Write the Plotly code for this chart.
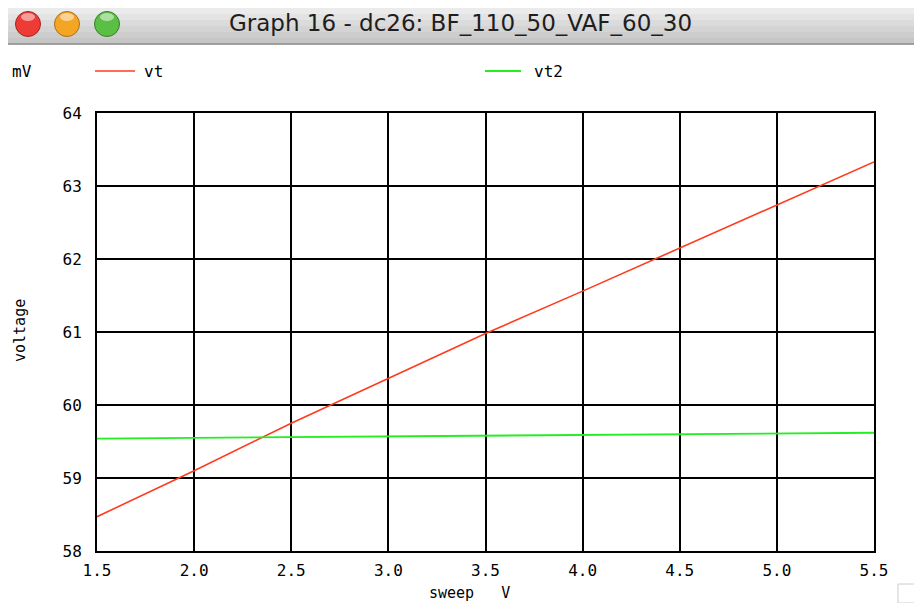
import plotly.graph_objects as go

sweep = [1.5, 2.0, 2.5, 3.0, 3.5, 4.0, 4.5, 5.0, 5.5]
vt = [58.47, 59.10, 59.75, 60.37, 60.98, 61.56, 62.15, 62.74, 63.33]
vt2 = [59.54, 59.55, 59.56, 59.57, 59.58, 59.60, 59.61, 59.61, 59.62]
x_ticks = [1.5, 2.0, 2.5, 3.0, 3.5, 4.0, 4.5, 5.0, 5.5]
y_ticks = [58, 59, 60, 61, 62, 63, 64]

# the page places the figure 8px from the window's top-left corner
OFF = 8
W, H = 922 - OFF, 603 - OFF
# plot area in window pixels
L, R, T, B = 97, 874, 113, 551


def px(x):
    return (x - L) / (R - L)


def py(y):
    return (B - y) / (B - T)


fig = go.Figure()
fig.add_trace(go.Scatter(x=sweep, y=vt, mode="lines", name="vt",
                         line=dict(color="#ff3b1f", width=1.6), showlegend=False))
fig.add_trace(go.Scatter(x=sweep, y=vt2, mode="lines", name="vt2",
                         line=dict(color="#22ee22", width=1.8), showlegend=False))

shapes = []
# title bar gradient (window y 0..44)
bands = ["#ebebeb", "#e3e3e3", "#dbdbdb", "#d4d4d4", "#cdcdcd", "#c6c6c6"]
top = OFF
bh = (44 - top) / len(bands)
for i, c in enumerate(bands):
    shapes.append(dict(type="rect", xref="paper", yref="paper",
                       x0=px(OFF), x1=px(922), y0=py(top + i * bh), y1=py(top + (i + 1) * bh + 0.5),
                       fillcolor=c, line=dict(width=0), layer="below"))
shapes.append(dict(type="line", xref="paper", yref="paper", x0=px(OFF), x1=px(922),
                   y0=py(44), y1=py(44), line=dict(color="#8c8c8c", width=1.5)))
# traffic lights
for cx, col, edge in [(28, "#ee3b36", "#9e2622"), (67, "#f5a524", "#a8701a"), (107, "#5cbf45", "#367f26")]:
    shapes.append(dict(type="circle", xref="paper", yref="paper",
                       x0=px(cx - 12.5), x1=px(cx + 12.5), y0=py(24 + 12.5), y1=py(24 - 12.5),
                       fillcolor=col, line=dict(color=edge, width=1)))
    shapes.append(dict(type="circle", xref="paper", yref="paper",
                       x0=px(cx - 7), x1=px(cx + 7), y0=py(21), y1=py(13),
                       fillcolor="rgba(255,255,255,0.5)", line=dict(width=0)))
# legend line samples
shapes.append(dict(type="line", xref="paper", yref="paper", x0=px(95), x1=px(135),
                   y0=py(71), y1=py(71), line=dict(color="#ff3b1f", width=1.6)))
shapes.append(dict(type="line", xref="paper", yref="paper", x0=px(485), x1=px(521),
                   y0=py(71), y1=py(71), line=dict(color="#22ee22", width=1.8)))
# resize grip
shapes.append(dict(type="rect", xref="paper", yref="paper", x0=px(898), x1=px(922),
                   y0=py(603), y1=py(584), fillcolor="white", line=dict(color="#cccccc", width=1)))

mono = "DejaVu Sans Mono"
annotations = [
    dict(text="Graph 16 - dc26: BF_110_50_VAF_60_30", xref="paper", yref="paper",
         x=px(460), y=py(23), showarrow=False, xanchor="center", yanchor="middle",
         font=dict(family="DejaVu Sans", size=23, color="#1e1e1e")),
    dict(text="mV", xref="paper", yref="paper", x=px(10), y=py(72), showarrow=False,
         xanchor="left", yanchor="middle", font=dict(family=mono, size=16, color="black")),
    dict(text="vt", xref="paper", yref="paper", x=px(142), y=py(72), showarrow=False,
         xanchor="left", yanchor="middle", font=dict(family=mono, size=16, color="black")),
    dict(text="vt2", xref="paper", yref="paper", x=px(532), y=py(72), showarrow=False,
         xanchor="left", yanchor="middle", font=dict(family=mono, size=16, color="black")),
    dict(text="voltage", xref="paper", yref="paper", x=px(20), y=py(331), showarrow=False,
         textangle=-90, xanchor="center", yanchor="middle",
         font=dict(family=mono, size=15, color="black")),
    dict(text="sweep&nbsp;&nbsp;&nbsp;V", xref="paper", yref="paper", x=px(469), y=py(593),
         showarrow=False, xanchor="center", yanchor="middle",
         font=dict(family=mono, size=15, color="black")),
]

fig.update_layout(
    width=W, height=H,
    margin=dict(l=L - OFF, r=W - (R - OFF), t=T - OFF, b=H - (B - OFF), pad=0),
    paper_bgcolor="white", plot_bgcolor="white",
    shapes=shapes, annotations=annotations, showlegend=False,
    xaxis=dict(range=[1.5, 5.5], tickvals=x_ticks, ticktext=[f"{v:.1f}" for v in x_ticks],
               showgrid=True, gridcolor="black", gridwidth=1.5, zeroline=False,
               showline=True, linecolor="black", linewidth=2, mirror=True,
               ticks="", ticklen=0, ticklabelstandoff=4,
               tickfont=dict(family=mono, size=16, color="black")),
    yaxis=dict(range=[58, 64], tickvals=y_ticks, ticktext=[str(v) for v in y_ticks],
               showgrid=True, gridcolor="black", gridwidth=1.5, zeroline=False,
               showline=True, linecolor="black", linewidth=2, mirror=True,
               ticks="", ticklen=0, ticklabelstandoff=10,
               tickfont=dict(family=mono, size=16, color="black")),
)

fig.write_html("out.html")
